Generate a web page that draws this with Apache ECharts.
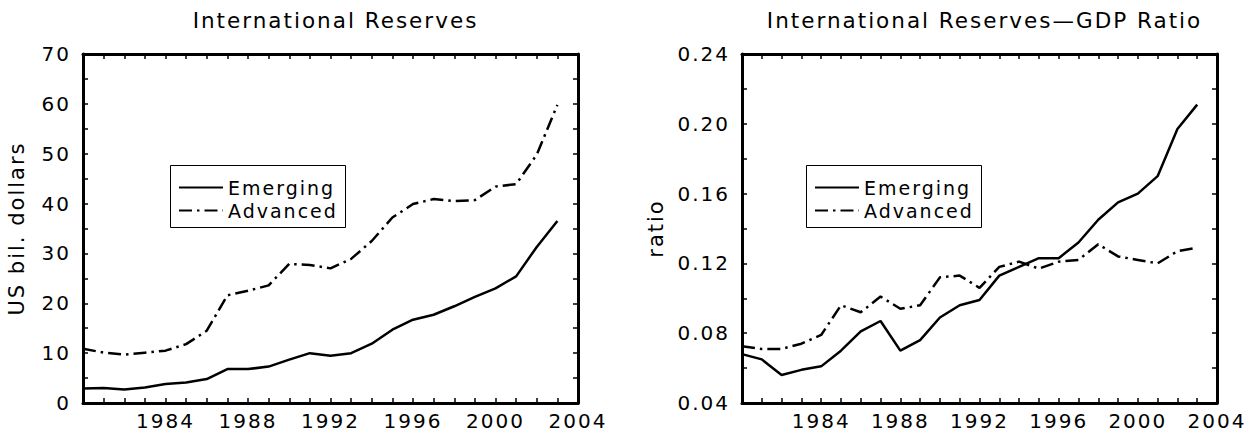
<!DOCTYPE html>
<html>
<head>
<meta charset="utf-8">
<script src="https://cdn.jsdelivr.net/npm/echarts@6/dist/echarts.min.js"></script>
<style>
  html, body { margin: 0; padding: 0; background: #fff; }
  #chart { width: 1259px; height: 436px; letter-spacing: 2px; }
</style>
</head>
<body>
<div id="chart"></div>
<script>
// ---- data ----
var years = [1980, 1981, 1982, 1983, 1984, 1985, 1986, 1987, 1988, 1989, 1990, 1991,
             1992, 1993, 1994, 1995, 1996, 1997, 1998, 1999, 2000, 2001, 2002, 2003];
var emergingReserves = [2.9, 3.0, 2.7, 3.1, 3.8, 4.1, 4.8, 6.8, 6.8, 7.3, 8.7, 10.0,
                        9.5, 10.0, 11.9, 14.7, 16.7, 17.7, 19.4, 21.3, 23.0, 25.4, 31.3, 36.5];
var advancedReserves = [10.9, 10.1, 9.7, 10.1, 10.5, 11.8, 14.5, 21.6, 22.5, 23.6, 27.9, 27.7,
                        27.0, 28.9, 32.5, 37.2, 39.9, 40.9, 40.5, 40.7, 43.4, 43.9, 49.8, 59.8];
var emergingRatio = [0.068, 0.065, 0.056, 0.059, 0.061, 0.070, 0.081, 0.087, 0.070, 0.076, 0.089, 0.096,
                     0.099, 0.113, 0.118, 0.123, 0.123, 0.132, 0.145, 0.155, 0.160, 0.170, 0.197, 0.211];
var advancedRatio = [0.0725, 0.071, 0.071, 0.074, 0.079, 0.096, 0.092, 0.101, 0.094, 0.096, 0.112, 0.113,
                     0.106, 0.118, 0.121, 0.117, 0.121, 0.122, 0.131, 0.124, 0.122, 0.120, 0.127, 0.129];
var titles = ['International Reserves', 'International Reserves\u2014GDP Ratio'];
var yNames = ['US bil. dollars', 'ratio'];
var seriesNames = ['Emerging', 'Advanced'];

function pairs(vals) { return years.map(function (y, i) { return [y, vals[i]]; }); }

var FONT = 'DejaVu Sans';
var grids = [
  { left: 83, right: 681, top: 54, bottom: 33 },
  { left: 742, right: 42, top: 54, bottom: 33 }
];
var dashDot = [13, 5, 2.5, 5];

function xAxes(gi) {
  var common = {
    type: 'value', gridIndex: gi, min: 1980, max: 2004, interval: 4,
    splitLine: { show: false },
    axisLine: { show: true, onZero: false, lineStyle: { color: '#000', width: 3 } },
    axisTick: { show: true, inside: true, length: 5, lineStyle: { color: '#000', width: 1.5 } },
    minorTick: { show: true, splitNumber: 4, length: 5, lineStyle: { color: '#000', width: 1.5 } }
  };
  return [
    Object.assign({}, common, {
      position: 'bottom',
      axisLabel: { show: true, color: '#000', fontFamily: FONT, fontSize: 20, margin: 8,
        formatter: function (v) { return v === 1980 ? '' : String(v); } }
    }),
    Object.assign({}, common, { position: 'top', axisLabel: { show: false } })
  ];
}
function yAxes(gi, min, max, interval, fmt, name, nameGap) {
  var common = {
    type: 'value', gridIndex: gi, min: min, max: max, interval: interval,
    splitLine: { show: false },
    axisLine: { show: true, onZero: false, lineStyle: { color: '#000', width: 3 } },
    axisTick: { show: true, inside: true, length: 5, lineStyle: { color: '#000', width: 1.5 } },
    minorTick: { show: true, splitNumber: 2, length: 5, lineStyle: { color: '#000', width: 1.5 } }
  };
  return [
    Object.assign({}, common, {
      position: 'left',
      name: name, nameLocation: 'middle', nameRotate: 90, nameGap: nameGap,
      nameTextStyle: { color: '#000', fontFamily: FONT, fontSize: 21 },
      axisLabel: { show: true, color: '#000', fontFamily: FONT, fontSize: 20, margin: 12, formatter: fmt }
    }),
    Object.assign({}, common, { position: 'right', axisLabel: { show: false } })
  ];
}

var lineSeries = function (name, vals, gi, dashed) {
  return {
    name: name, type: 'line', xAxisIndex: gi * 2, yAxisIndex: gi * 2,
    data: pairs(vals), showSymbol: false, symbol: 'none', animation: false,
    lineStyle: { color: '#000', width: 2.5, type: dashed ? dashDot : 'solid', cap: 'butt' },
    itemStyle: { color: '#000' }
  };
};

function legendItem(name, left, top) {
  return {
    data: [name], left: left, top: top, orient: 'vertical', padding: 0,
    itemWidth: 44, itemHeight: 14, selectedMode: false,
    itemStyle: { color: 'rgba(0,0,0,0)', borderColor: 'rgba(0,0,0,0)', borderWidth: 0, opacity: 0 },
    textStyle: { color: '#000', fontFamily: FONT, fontSize: 19, lineHeight: 14 }
  };
}

var legendBoxes = [
  { x: 170, y: 165 },
  { x: 806, y: 165 }
];

var option = {
  backgroundColor: '#fff',
  animation: false,
  title: [
    { text: titles[0], left: (83 + 578) / 2, top: 4, textAlign: 'center',
      textStyle: { color: '#000', fontFamily: FONT, fontSize: 21.5, fontWeight: 'normal', lineHeight: 22 } },
    { text: titles[1], left: (742 + 1217) / 2, top: 4, textAlign: 'center',
      textStyle: { color: '#000', fontFamily: FONT, fontSize: 21.5, fontWeight: 'normal', lineHeight: 22 } }
  ],
  grid: grids,
  xAxis: xAxes(0).concat(xAxes(1)),
  yAxis: yAxes(0, 0, 70, 10, function (v) { return String(v); }, yNames[0], 56)
    .concat(yAxes(1, 0.04, 0.24, 0.04, function (v) { return v.toFixed(2); }, yNames[1], 76)),
  legend: [
    legendItem(seriesNames[0], legendBoxes[0].x + 8, 178),
    legendItem(seriesNames[1], legendBoxes[0].x + 8, 201),
    legendItem(seriesNames[0], legendBoxes[1].x + 8, 178),
    legendItem(seriesNames[1], legendBoxes[1].x + 8, 201)
  ],
  graphic: legendBoxes.map(function (b) {
    return { type: 'rect', silent: true, z: 100,
      shape: { x: b.x + 0.5, y: b.y + 0.5, width: 175, height: 62 },
      style: { fill: 'none', stroke: '#000', lineWidth: 1 } };
  }),
  series: [
    lineSeries(seriesNames[0], emergingReserves, 0, false),
    lineSeries(seriesNames[1], advancedReserves, 0, true),
    lineSeries(seriesNames[0], emergingRatio, 1, false),
    lineSeries(seriesNames[1], advancedRatio, 1, true)
  ]
};

var chart = echarts.init(document.getElementById('chart'), null, { renderer: 'svg' });
chart.setOption(option);
</script>
</body>
</html>
